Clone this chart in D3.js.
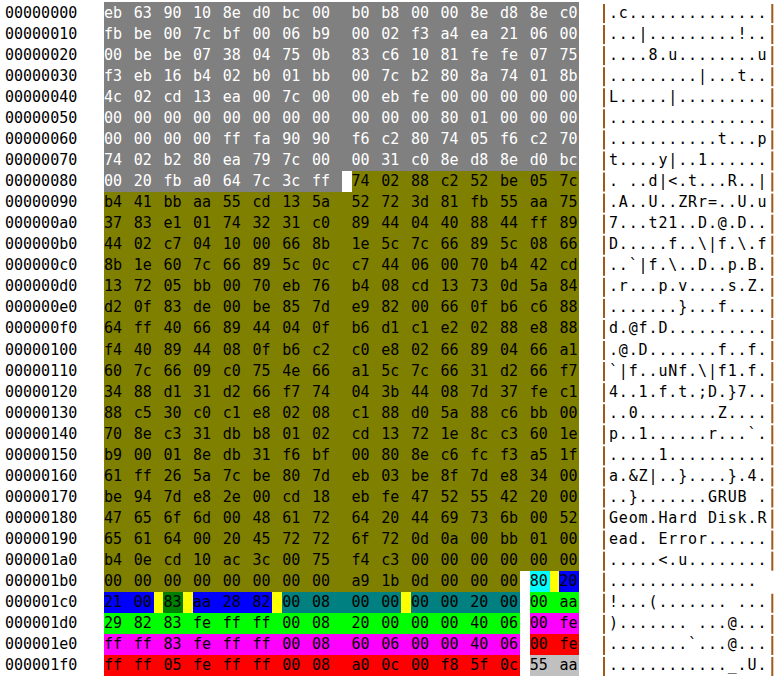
<!DOCTYPE html>
<html>
<head>
<meta charset="utf-8">
<script src="https://cdn.jsdelivr.net/npm/d3@7"></script>
<style>
  body { margin: 0; background: #fff; }
  text { font-family: "DejaVu Sans Mono", monospace; font-size: 15px; }
</style>
</head>
<body>
<svg id="chart" width="781" height="680"></svg>
<script>
// MBR dump, one string per 16-byte row
const rows = [
  "eb 63 90 10 8e d0 bc 00 b0 b8 00 00 8e d8 8e c0",
  "fb be 00 7c bf 00 06 b9 00 02 f3 a4 ea 21 06 00",
  "00 be be 07 38 04 75 0b 83 c6 10 81 fe fe 07 75",
  "f3 eb 16 b4 02 b0 01 bb 00 7c b2 80 8a 74 01 8b",
  "4c 02 cd 13 ea 00 7c 00 00 eb fe 00 00 00 00 00",
  "00 00 00 00 00 00 00 00 00 00 00 80 01 00 00 00",
  "00 00 00 00 ff fa 90 90 f6 c2 80 74 05 f6 c2 70",
  "74 02 b2 80 ea 79 7c 00 00 31 c0 8e d8 8e d0 bc",
  "00 20 fb a0 64 7c 3c ff 74 02 88 c2 52 be 05 7c",
  "b4 41 bb aa 55 cd 13 5a 52 72 3d 81 fb 55 aa 75",
  "37 83 e1 01 74 32 31 c0 89 44 04 40 88 44 ff 89",
  "44 02 c7 04 10 00 66 8b 1e 5c 7c 66 89 5c 08 66",
  "8b 1e 60 7c 66 89 5c 0c c7 44 06 00 70 b4 42 cd",
  "13 72 05 bb 00 70 eb 76 b4 08 cd 13 73 0d 5a 84",
  "d2 0f 83 de 00 be 85 7d e9 82 00 66 0f b6 c6 88",
  "64 ff 40 66 89 44 04 0f b6 d1 c1 e2 02 88 e8 88",
  "f4 40 89 44 08 0f b6 c2 c0 e8 02 66 89 04 66 a1",
  "60 7c 66 09 c0 75 4e 66 a1 5c 7c 66 31 d2 66 f7",
  "34 88 d1 31 d2 66 f7 74 04 3b 44 08 7d 37 fe c1",
  "88 c5 30 c0 c1 e8 02 08 c1 88 d0 5a 88 c6 bb 00",
  "70 8e c3 31 db b8 01 02 cd 13 72 1e 8c c3 60 1e",
  "b9 00 01 8e db 31 f6 bf 00 80 8e c6 fc f3 a5 1f",
  "61 ff 26 5a 7c be 80 7d eb 03 be 8f 7d e8 34 00",
  "be 94 7d e8 2e 00 cd 18 eb fe 47 52 55 42 20 00",
  "47 65 6f 6d 00 48 61 72 64 20 44 69 73 6b 00 52",
  "65 61 64 00 20 45 72 72 6f 72 0d 0a 00 bb 01 00",
  "b4 0e cd 10 ac 3c 00 75 f4 c3 00 00 00 00 00 00",
  "00 00 00 00 00 00 00 00 a9 1b 0d 00 00 00 80 20",
  "21 00 83 aa 28 82 00 08 00 00 00 00 20 00 00 aa",
  "29 82 83 fe ff ff 00 08 20 00 00 00 40 06 00 fe",
  "ff ff 83 fe ff ff 00 08 60 06 00 00 40 06 00 fe",
  "ff ff 05 fe ff ff 00 08 a0 0c 00 f8 5f 0c 55 aa"
];

// [first byte, last byte, fill, group]
const segments = [
  [0x000, 0x087, "#808080", "boot"],
  [0x088, 0x1bd, "#808000", "code"],
  [0x1be, 0x1be, "#00ffff", "p1"],
  [0x1bf, 0x1c1, "#0000ff", "p1"],
  [0x1c2, 0x1c2, "#008000", "p1"],
  [0x1c3, 0x1c5, "#0000ff", "p1"],
  [0x1c6, 0x1c9, "#008080", "p1"],
  [0x1ca, 0x1cd, "#008080", "p1"],
  [0x1ce, 0x1dd, "#00ff00", "p2"],
  [0x1de, 0x1ed, "#ff00ff", "p3"],
  [0x1ee, 0x1fd, "#ff0000", "p4"],
  [0x1fe, 0x1ff, "#c0c0c0", "sig"]
];

const svg = d3.select("#chart");
const col = d3.scaleLinear().domain([0, 1]).range([104, 113.9]);
const row = d3.scaleBand().domain(d3.range(rows.length)).range([2, 676]);
const rh = row.bandwidth();

const bytes = rows.flatMap((r, ri) => r.split(" ").map((h, bi) => ({
  addr: ri * 16 + bi, ri, bi, hex: h, val: parseInt(h, 16)
})));
const segIndex = a => segments.findIndex(s => a >= s[0] && a <= s[1]);
const byteCol = bi => bi * 3 + (bi >= 8 ? 1 : 0);

// background cells
const cells = [];
bytes.forEach(b => {
  const si = segIndex(b.addr), seg = segments[si];
  const c0 = byteCol(b.bi);
  if (b.bi === 15) { cells.push([b.ri, c0, c0 + 2, seg[2]]); return; }
  const c1 = byteCol(b.bi + 1);
  const ni = segIndex(b.addr + 1);
  if (ni === si) cells.push([b.ri, c0, c1, seg[2]]);
  else if (segments[ni][3] === seg[3]) {
    cells.push([b.ri, c0, c0 + 2, seg[2]]);
    cells.push([b.ri, c0 + 2, c1, "#ffff00"]);
  } else {
    cells.push([b.ri, c0, c1 - 1, seg[2]]);
  }
});

svg.append("g").attr("shape-rendering", "crispEdges")
  .selectAll("rect").data(cells).join("rect")
  .attr("x", d => Math.round(col(d[1])))
  .attr("width", d => Math.round(col(d[2])) - Math.round(col(d[1])))
  .attr("y", d => Math.round(row(d[0])))
  .attr("height", d => Math.round(row(d[0]) + rh) - Math.round(row(d[0])))
  .attr("fill", d => d[3]);

const base = ri => row(ri) + rh / 2 + 5;

// offsets
svg.append("g").selectAll("text").data(rows).join("text")
  .attr("x", col(-10)).attr("y", (d, i) => base(i))
  .text((d, i) => (i * 16).toString(16).padStart(8, "0"));

// hex bytes
svg.append("g").selectAll("text").data(bytes).join("text")
  .attr("x", d => col(byteCol(d.bi))).attr("y", d => base(d.ri))
  .attr("fill", d => segIndex(d.addr) === 0 ? "#fff" : "#000")
  .text(d => d.hex);

// ascii
svg.append("g").selectAll("text").data(bytes).join("text")
  .attr("x", d => col(51 + d.bi)).attr("y", d => base(d.ri))
  .text(d => d.val >= 0x20 && d.val < 0x7f ? String.fromCharCode(d.val) : ".");

// bars
const bars = [];
rows.forEach((r, i) => {
  bars.push([i, 50]);
  if (i !== 27) bars.push([i, 67]);
});
svg.append("g").selectAll("rect").data(bars).join("rect")
  .attr("x", d => col(d[1]) + 4).attr("width", 2)
  .attr("y", d => row(d[0]) + 2).attr("height", rh - 2)
  .attr("fill", "#9c5a1c");
</script>
</body>
</html>
